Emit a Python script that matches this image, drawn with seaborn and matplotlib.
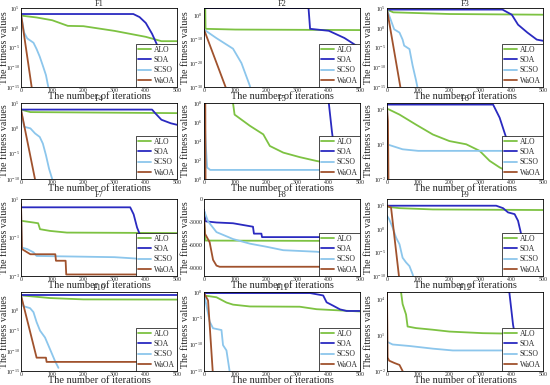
import numpy as np
import pandas as pd
import matplotlib
matplotlib.use("Agg")
import matplotlib.pyplot as plt
import seaborn as sns
from matplotlib.ticker import FixedLocator, NullLocator, LogFormatterSciNotation

sns.set_theme(style="white")
plt.rcParams['font.family'] = ['Liberation Serif', 'DejaVu Serif']
plt.rcParams['mathtext.fontset'] = 'custom'
plt.rcParams['mathtext.rm'] = 'Liberation Serif'
plt.rcParams['mathtext.it'] = 'Liberation Serif:italic'
plt.rcParams['axes.unicode_minus'] = False

algorithms = ["ALO", "SOA", "SCSO", "WaOA"]
colors = ["#7DC242", "#2A2AC0", "#8CC6EC", "#A0522D"]
titles = ["F1", "F2", "F3", "F4", "F5", "F6", "F7", "F8", "F9", "F10", "F11", "F12"]
xlabel = "The number of iterations"
ylabel = "The fitness values"
x_ticks = [0, 100, 200, 300, 400, 500]

# breakpoints (iteration, fitness), per function
F1 = {
    "ALO": ([0, 50, 100, 150, 200, 300, 400, 450, 500], [1.2e3, 4e2, 8e1, 3e0, 2.5e0, 1.6e-1, 5e-3, 4e-4, 4e-4]),
    "SOA": ([0, 360, 380, 400, 420, 440, 460, 480, 500], [3e3, 3e3, 5e2, 1.6e1, 3e-2, 1e-5, 1e-9, 1e-13, 1e-14]),
    "SCSO": ([0, 10, 20, 40, 50, 60, 70, 80, 90], [3e3, 6e-2, 2e-3, 1.6e-4, 4e-6, 5e-8, 2.5e-10, 1e-12, 1e-16]),
    "WaOA": ([0, 36], [3e3, 1e-16]),
}
F2 = {
    "ALO": ([0, 4, 5, 100, 500], [1e3, 1e3, 2e-6, 1e-6, 6e-7]),
    "SOA": ([0, 335, 340, 400, 450, 500], [1e3, 1e3, 2e-6, 3e-7, 3e-10, 2e-14]),
    "SCSO": ([0, 40, 93, 120, 147, 150], [1e-6, 2.5e-10, 1e-14, 1e-20, 3e-30, 1e-31]),
    "WaOA": ([0, 72], [1e-6, 1e-31]),
}
F3 = {
    "ALO": ([0, 20, 200, 500], [4e4, 8e3, 3e3, 2e3]),
    "SOA": ([0, 370, 400, 420, 450, 480, 500], [4e4, 4e4, 2e3, 6e0, 6e-2, 1e-3, 5e-4]),
    "SCSO": ([0, 23, 40, 50, 55, 72, 82, 93, 100], [4e4, 4e-1, 6e-2, 1e-3, 3e-5, 4e-6, 3e-10, 5e-14, 1e-16]),
    "WaOA": ([0, 45], [4e4, 1e-16]),
}
F4 = {
    "ALO": ([0, 30, 500], [5e3, 1.6e3, 1e3]),
    "SOA": ([0, 420, 430, 450, 480, 500], [5e3, 5e3, 1e3, 5e1, 1e1, 5e0]),
    "SCSO": ([0, 10, 30, 45, 60, 70, 80, 90, 100], [5e3, 2e0, 1e0, 1e-1, 2e-2, 1e-3, 5e-6, 1e-8, 1e-10]),
    "WaOA": ([0, 48], [5e3, 1e-11]),
}
F5 = {
    "ALO": ([0, 93, 98, 147, 190, 211, 254, 307, 360, 393, 500], [1e10, 1e8, 6e6, 4e5, 5e4, 3e3, 6e2, 2e2, 8e1, 5e1, 4.5e1]),
    "SOA": ([0, 392, 400, 410, 420, 430, 500], [1e10, 1e10, 1e8, 1e5, 3e2, 5e1, 3e1]),
    "SCSO": ([0, 5, 10, 20, 500], [1e8, 1e4, 1.6e1, 9e0, 9e0]),
    "WaOA": ([0, 4, 5, 500], [1e10, 1e10, 1e-1, 1e-1]),
}
F6 = {
    "ALO": ([0, 7, 40, 93, 147, 200, 254, 297, 329, 361, 393, 500], [1.2e4, 1e4, 3.7e3, 5e2, 7e1, 1.9e1, 1e1, 2.7e0, 3.7e-1, 1e-1, 3.7e-2, 2e-2]),
    "SOA": ([0, 340, 361, 382, 393, 410, 500], [2.7e4, 2.7e4, 2e3, 3.7e1, 2.7e0, 1e-2, 5e-3]),
    "SCSO": ([0, 50, 100, 500], [1e1, 3.7e0, 2.7e0, 2.7e0]),
    "WaOA": ([0, 3, 5, 500], [1.5e4, 1e3, 1e-3, 1e-3]),
}
F7 = {
    "ALO": ([0, 40, 55, 61, 93, 147, 500], [0.74, 0.6, 0.55, 0.27, 0.22, 0.18, 0.17]),
    "SOA": ([0, 350, 361, 372, 382, 393, 404, 500], [3.7, 3.7, 1.6, 0.33, 0.13, 0.045, 0.037, 0.03]),
    "SCSO": ([0, 3, 20, 40, 50, 300, 400, 500], [3.7, 0.03, 0.025, 0.017, 0.011, 0.0095, 0.0075, 0.007]),
    "WaOA": ([0, 3, 30, 110, 112, 143, 145, 500], [5.5, 0.025, 0.0135, 0.0135, 0.0062, 0.0062, 0.0012, 0.0012]),
}
F8 = {
    "ALO": ([0, 5, 500], [-3000, -5400, -5450]),
    "SOA": ([0, 5, 40, 93, 157, 160, 184, 186, 500], [-1400, -2900, -3050, -3150, -3600, -4500, -4500, -4950, -4950]),
    "SCSO": ([0, 13, 40, 93, 147, 200, 254, 361, 393, 500], [-1500, -2900, -4300, -5200, -5800, -6200, -6650, -6850, -7000, -7050]),
    "WaOA": ([0, 3, 18, 29, 40, 50, 500], [-1800, -4500, -5600, -7900, -8650, -8800, -8800]),
}
F9 = {
    "ALO": ([0, 40, 147, 500], [6e4, 3e4, 1.6e4, 1.2e4]),
    "SOA": ([0, 350, 372, 388, 409, 420, 430, 441, 452, 500], [1e5, 1e5, 3e4, 3.7e3, 1.6e3, 6e1, 8.5e-2, 6e-4, 4e-6, 1e-8]),
    "SCSO": ([0, 7, 18, 29, 40, 50, 61, 72, 82, 88], [7e2, 1.3e2, 2.3e0, 1.6e-2, 6e-4, 8e-7, 8e-8, 1.3e-8, 2.5e-10, 1e-11]),
    "WaOA": ([0, 13, 40], [1e5, 4e4, 1e-11]),
}
F10 = {
    "ALO": ([0, 93, 200, 500], [5.6e3, 1.2e3, 5.6e2, 5e2]),
    "SOA": ([0, 500], [5.6e3, 5.6e3]),
    "SCSO": ([0, 7, 29, 40, 50, 61, 77, 93, 109, 120], [5.6e3, 1.2e1, 3.8e0, 3.8e-1, 1.3e-3, 1e-5, 2e-7, 2.5e-10, 3e-13, 6e-15]),
    "WaOA": ([0, 50, 80, 82, 500], [5.6e3, 2e-12, 2e-12, 1.8e-13, 1.8e-13]),
}
F11 = {
    "ALO": ([0, 40, 72, 93, 147, 307, 361, 500], [0.22, 0.1, 1e-2, 4e-3, 1.8e-3, 1.6e-3, 5.4e-4, 2e-4]),
    "SOA": ([0, 340, 382, 393, 414, 436, 457, 500], [0.63, 0.63, 0.22, 1.1e-2, 2.5e-3, 5e-4, 2.5e-4, 2.5e-4]),
    "SCSO": ([0, 7, 18, 29, 56, 61, 72, 82, 85], [0.63, 5e-3, 2.5e-6, 1.3e-7, 6e-8, 8e-11, 8e-12, 1e-15, 1e-16]),
    "WaOA": ([0, 13, 29], [0.63, 2.5e-2, 1e-16]),
}
F12 = {
    "ALO": ([0, 45, 50, 61, 66, 93, 147, 200, 307, 500], [1e6, 3.7e4, 3.7e3, 5e2, 5e1, 3.7e1, 2.7e1, 1.9e1, 1.4e1, 1.15e1]),
    "SOA": ([0, 392, 404, 412, 500], [1e6, 3.7e4, 7e1, 5e0, 3e0]),
    "SCSO": ([0, 18, 72, 147, 211, 500], [2.7, 1.6, 1.2, 0.72, 0.51, 0.51]),
    "WaOA": ([0, 2, 7, 24, 40, 50, 55], [3.7e4, 0.13, 0.072, 0.046, 0.032, 0.01, 0.005]),
}
panels = [F1, F2, F3, F4, F5, F6, F7, F8, F9, F10, F11, F12]

y_limits = [(1e-15, 1e5), (1e-30, 1e3), (1e-15, 1e5), (1e-10, 1e5),
            (1e0, 1e8), (1e-2, 3.7e4), (1e-3, 1e1), (-10000, 0),
            (1e-10, 2.7e6), (1e-15, 3.8e4), (1e-15, 1e0), (1e-2, 3.7e4)]
y_ticks = [[1e5, 1e0, 1e-5, 1e-10, 1e-15], [1e0, 1e-10, 1e-20, 1e-30], [1e5, 1e0, 1e-5, 1e-10, 1e-15],
           [1e5, 1e0, 1e-5, 1e-10], [1e8, 1e6, 1e4, 1e2, 1e0], [1e4, 1e1, 1e-2], [1e1, 1e-1, 1e-3],
           [0, -3000, -6000, -9000], [1e5, 1e0, 1e-5, 1e-10], [1e0, 1e-5, 1e-10, 1e-15],
           [1e0, 1e-5, 1e-10, 1e-15], [1e4, 1e1, 1e-2]]
log_scale = [True] * 7 + [False] + [True] * 4

W, H = 550, 385
fig = plt.figure(figsize=(W / 100, H / 100), dpi=100)
col_left = [21, 204, 387]
ylabel_off = [-11.5, -14, -14]
ax_w = 156
row_top = [8, 103, 199, 292]
row_h = [79, 76, 77, 79]

for i, data in enumerate(panels):
    r, c = divmod(i, 3)
    ax = fig.add_axes([col_left[c] / W, 1 - (row_top[r] + row_h[r]) / H, ax_w / W, row_h[r] / H])
    rows = []
    for alg in algorithms:
        xs, ys = data[alg]
        for xv, yv in zip(xs, ys):
            rows.append({"iter": xv, "fit": yv, "alg": alg})
    df = pd.DataFrame(rows)
    sns.lineplot(data=df, x="iter", y="fit", hue="alg", hue_order=algorithms,
                 palette=colors, estimator=None, sort=False, linewidth=1.3,
                 ax=ax, legend=False)
    if log_scale[i]:
        ax.set_yscale("log")
        ax.yaxis.set_major_formatter(LogFormatterSciNotation())
    ax.set_ylim(*y_limits[i])
    ax.yaxis.set_major_locator(FixedLocator(y_ticks[i]))
    ax.yaxis.set_minor_locator(NullLocator())
    ax.set_xlim(0, 500)
    ax.set_xticks(x_ticks)
    ax.tick_params(axis="both", direction="in", labelsize=4.2, length=2, width=0.5, pad=0.8)
    for s in ax.spines.values():
        s.set_linewidth(0.6)
        s.set_color("black")
    ax.set_title(titles[i], fontsize=6, pad=1.2)
    ax.set_xlabel(xlabel, fontsize=7.5, labelpad=-0.5)
    ax.set_ylabel(ylabel, fontsize=7.2)
    ax.yaxis.set_label_coords(ylabel_off[c] / ax_w, 0.5)
    handles = [plt.Line2D([], [], color=col, lw=1.3) for col in colors]
    leg = ax.legend(handles, algorithms, loc="lower right", fontsize=5.5, frameon=True,
                    fancybox=False, borderaxespad=0, handlelength=1.7, labelspacing=0.3,
                    borderpad=0.3, handletextpad=0.3)
    leg.get_frame().set_edgecolor("black")
    leg.get_frame().set_linewidth(0.5)
    leg.get_frame().set_alpha(1)

fig.savefig("out.png", dpi=100)
